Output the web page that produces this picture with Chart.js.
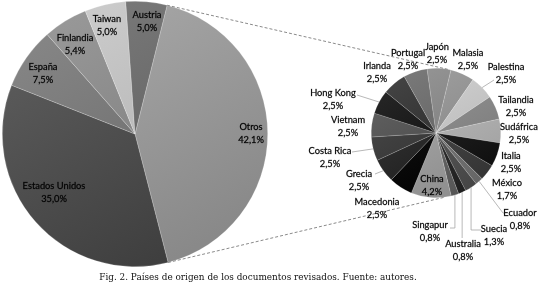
<!DOCTYPE html>
<html>
<head>
<meta charset="utf-8">
<script src="https://cdn.jsdelivr.net/npm/chart.js@4"></script>
<style>
  body { margin: 0; background: #fff; }
  #wrap { position: relative; width: 550px; height: 289px; overflow: hidden; }
  #wrap canvas { position: absolute; left: 0; top: 0; }
  #caption {
    position: absolute; left: 0; top: 272px; width: 516px; text-align: center;
    font-family: "DejaVu Serif", serif; font-size: 8.9px; color: #111;
  }
</style>
</head>
<body>
<div id="wrap">
  <canvas id="main-canvas" width="550" height="289"></canvas>
  <canvas id="detail-canvas" width="550" height="289"></canvas>
  <div id="caption">Fig. 2. Países de origen de los documentos revisados. Fuente: autores.</div>
</div>
<script>
  // main pie
  const mainLabels = ['Otros', 'Estados Unidos', 'España', 'Finlandia', 'Taiwan', 'Austria'];
  const mainValues = [42.1, 35.0, 7.5, 5.4, 5.0, 5.0];
  const mainColors = ['#9d9d9d', '#525252', '#7b7b7b', '#8d8d8d', '#c1c1c1', '#6f6f6f'];

  // breakdown of "Otros"
  const otherLabels = ['Japón', 'Malasia', 'Palestina', 'Tailandia', 'Sudáfrica', 'Italia', 'México',
    'Ecuador', 'Suecia', 'Australia', 'Singapur', 'China', 'Macedonia', 'Grecia', 'Costa Rica',
    'Vietnam', 'Hong Kong', 'Irlanda', 'Portugal'];
  const otherValues = [2.5, 2.5, 2.5, 2.5, 2.5, 2.5, 1.7, 0.8, 1.3, 0.8, 0.8, 4.2, 2.5, 2.5, 2.5, 2.5, 2.5, 2.5, 2.5];
  const otherColors = ['#8a8a8a', '#959595', '#c8c8c8', '#8c8c8c', '#b4b4b4', '#222222', '#484848',
    '#7a7a7a', '#5a5a5a', '#333333', '#6a6a6a', '#a2a2a2', '#0a0a0a', '#2e2e2e', '#404040',
    '#575757', '#1c1c1c', '#383838', '#6e6e6e'];

  // label anchors (centre of first text line)
  const mainLabelPos = [[251, 127], [54, 186], [43, 67], [75, 38], [107, 19], [147, 15]];
  const otherLabelPos = [[437, 47], [468, 53], [506, 67], [516, 100], [519, 127], [511, 156], [507, 183],
    [520, 213], [494, 229], [463, 244], [430, 225], [432, 179], [377, 202], [359, 174], [330, 151],
    [348, 120], [333, 93], [377, 66], [408, 53]];
  // leader lines: first point is the slice edge, null x = keep edge x
  const leaders = {
    'Palestina': [[494, 80]],
    'Ecuador': [[503, 213], [508, 213]],
    'Suecia': [[null, 230], [481, 230]],
    'Australia': [[null, 238]],
    'Singapur': [[null, 228], [450, 228]],
    'Grecia': [[375, 174]],
    'Costa Rica': [[352, 152]],
    'Hong Kong': [[357, 95]]
  };

  const FONT = '9.3px Lato, "Liberation Sans", sans-serif';

  function pct(v) {
    return v.toFixed(1).replace('.', ',') + '%';
  }

  function shade(hex, amt) {
    const n = parseInt(hex.slice(1), 16);
    const c = [(n >> 16) & 255, (n >> 8) & 255, n & 255].map(x => Math.max(0, Math.min(255, x + amt)));
    return 'rgb(' + c.join(',') + ')';
  }

  function gradientFill(colors) {
    return (c) => {
      const area = c.chart.chartArea;
      const col = colors[c.dataIndex];
      if (!area) return col;
      const g = c.chart.ctx.createLinearGradient(area.left, area.top, area.right * 0.6 + area.left * 0.4, area.bottom);
      g.addColorStop(0, shade(col, 16));
      g.addColorStop(1, shade(col, -20));
      return g;
    };
  }

  function drawTwoLines(ctx, name, value, x, y, gap) {
    ctx.fillText(name, x, y);
    ctx.strokeText(name, x, y);
    ctx.fillText(pct(value), x, y + gap);
    ctx.strokeText(pct(value), x, y + gap);
  }

  function textStyle(ctx) {
    ctx.font = FONT;
    ctx.fillStyle = '#000';
    ctx.strokeStyle = 'rgba(0,0,0,0.55)';
    ctx.lineWidth = 0.4;
    ctx.textAlign = 'center';
    ctx.textBaseline = 'middle';
  }

  const mainLabelPlugin = {
    id: 'mainLabels',
    afterDraw(chart) {
      const ctx = chart.ctx;
      ctx.save();
      textStyle(ctx);
      mainLabels.forEach((name, i) => {
        drawTwoLines(ctx, name, mainValues[i], mainLabelPos[i][0], mainLabelPos[i][1], 13);
      });
      ctx.restore();
    }
  };

  const mainChart = new Chart(document.getElementById('main-canvas'), {
    type: 'pie',
    data: {
      labels: mainLabels,
      datasets: [{
        data: mainValues,
        backgroundColor: gradientFill(mainColors),
        borderColor: 'rgba(255,255,255,0.35)',
        borderWidth: 0.6
      }]
    },
    options: {
      responsive: false,
      animation: false,
      rotation: 14,
      layout: { padding: { left: 2, right: 282, top: 1, bottom: 22 } },
      plugins: { legend: { display: false }, tooltip: { enabled: false } }
    },
    plugins: [mainLabelPlugin]
  });

  function edgePoint(arc, angle) {
    return [arc.x + Math.cos(angle) * arc.outerRadius, arc.y + Math.sin(angle) * arc.outerRadius];
  }

  const detailPlugin = {
    id: 'detailLabels',
    afterDraw(chart) {
      const ctx = chart.ctx;
      const arcs = chart.getDatasetMeta(0).data;
      const centre = arcs[0];
      ctx.save();

      // dashed connectors from the "Otros" slice to the second pie
      const otros = mainChart.getDatasetMeta(0).data[0];
      const deg = Math.PI / 180;
      const a1 = edgePoint(otros, otros.startAngle);
      const a2 = edgePoint(otros, otros.endAngle);
      const b1 = edgePoint(centre, -90 * deg + 10.5 * deg);
      const b2 = edgePoint(centre, -90 * deg + 172 * deg);
      ctx.strokeStyle = '#8a8a8a';
      ctx.lineWidth = 1;
      ctx.setLineDash([3, 2]);
      ctx.beginPath();
      ctx.moveTo(a1[0], a1[1]); ctx.lineTo(b1[0], b1[1]);
      ctx.moveTo(a2[0], a2[1]); ctx.lineTo(b2[0], b2[1]);
      ctx.stroke();
      ctx.setLineDash([]);

      // leader lines
      ctx.strokeStyle = '#a6a6a6';
      ctx.lineWidth = 0.8;
      otherLabels.forEach((name, i) => {
        const pts = leaders[name];
        if (!pts) return;
        const arc = arcs[i];
        const mid = (arc.startAngle + arc.endAngle) / 2;
        const e = edgePoint(arc, mid);
        ctx.beginPath();
        ctx.moveTo(e[0], e[1]);
        pts.forEach(p => ctx.lineTo(p[0] === null ? e[0] : p[0], p[1]));
        ctx.stroke();
      });

      textStyle(ctx);
      otherLabels.forEach((name, i) => {
        drawTwoLines(ctx, name, otherValues[i], otherLabelPos[i][0], otherLabelPos[i][1], 12.5);
      });
      ctx.restore();
    }
  };

  new Chart(document.getElementById('detail-canvas'), {
    type: 'pie',
    data: {
      labels: otherLabels,
      datasets: [{
        data: otherValues,
        backgroundColor: gradientFill(otherColors),
        borderColor: 'rgba(255,255,255,0.3)',
        borderWidth: 0.5
      }]
    },
    options: {
      responsive: false,
      animation: false,
      rotation: -8,
      layout: { padding: { left: 371, right: 49, top: 68, bottom: 91 } },
      plugins: { legend: { display: false }, tooltip: { enabled: false } }
    },
    plugins: [detailPlugin]
  });
</script>
</body>
</html>
